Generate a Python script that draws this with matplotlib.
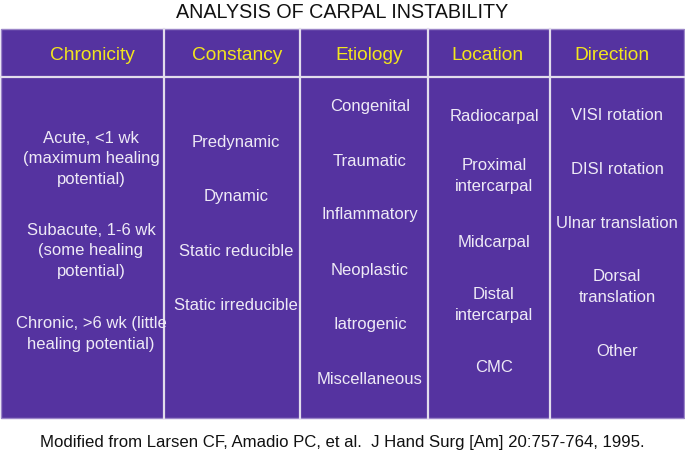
import matplotlib.pyplot as plt
from matplotlib.patches import Rectangle

plt.rcParams['font.family'] = ['Liberation Sans', 'DejaVu Sans']

title = 'ANALYSIS OF CARPAL INSTABILITY'
footer = 'Modified from Larsen CF, Amadio PC, et al.  J Hand Surg [Am] 20:757-764, 1995.'

headers = ['Chronicity', 'Constancy', 'Etiology', 'Location', 'Direction']

chronicity = ['Acute, <1 wk\n(maximum healing\npotential)',
              'Subacute, 1-6 wk\n(some healing\npotential)',
              'Chronic, >6 wk (little\nhealing potential)']
constancy = ['Predynamic', 'Dynamic', 'Static reducible', 'Static irreducible']
etiology = ['Congenital', 'Traumatic', 'Inflammatory', 'Neoplastic',
            'Iatrogenic', 'Miscellaneous']
location = ['Radiocarpal', 'Proximal\nintercarpal', 'Midcarpal',
            'Distal\nintercarpal', 'CMC']
direction = ['VISI rotation', 'DISI rotation', 'Ulnar translation',
             'Dorsal\ntranslation', 'Other']
columns = [chronicity, constancy, etiology, location, direction]

# layout in pixels (figure is 685x455, y downwards)
col_edges = [1, 164, 300, 428, 550, 684]
text_x = [91, 236, 370, 494, 617]
head_x = [92, 237, 369, 487, 612]
table_top, head_bottom, table_bottom = 29, 77, 418
item_y = [
    [158, 250, 333],
    [142, 196, 250, 304],
    [106, 160, 214, 269, 323, 378],
    [115, 175, 241, 304, 367],
    [115, 169, 223, 286, 351],
]

purple = '#5533a0'
line = '#e2ddec'
yellow = '#f2e51e'
body = '#eeeaf6'

fig = plt.figure(figsize=(6.85, 4.55), dpi=100)
ax = fig.add_axes([0, 0, 1, 1])
ax.set_xlim(0, 685)
ax.set_ylim(455, 0)
ax.axis('off')

ax.add_patch(Rectangle((col_edges[0], table_top), col_edges[-1] - col_edges[0],
                       table_bottom - table_top, facecolor=purple,
                       edgecolor='#9b86c8', lw=1))
for x in col_edges[1:-1]:
    ax.plot([x, x], [table_top, table_bottom], color=line, lw=1.6)
ax.plot([col_edges[0], col_edges[-1]], [head_bottom, head_bottom], color=line, lw=1.6)

ax.text(342, 13, title, ha='center', va='center', fontsize=14.2, color='#111111')
ax.text(342, 442, footer, ha='center', va='center', fontsize=12.1, color='#111111')

for hx, h in zip(head_x, headers):
    ax.text(hx, 56, h, ha='center', va='center', fontsize=13.8, color=yellow)

for cx, items, ys in zip(text_x, columns, item_y):
    for t, y in zip(items, ys):
        ax.text(cx, y + 1, t, ha='center', va='center', fontsize=12,
                color=body, linespacing=1.45)

fig.savefig('out.png', dpi=100)
